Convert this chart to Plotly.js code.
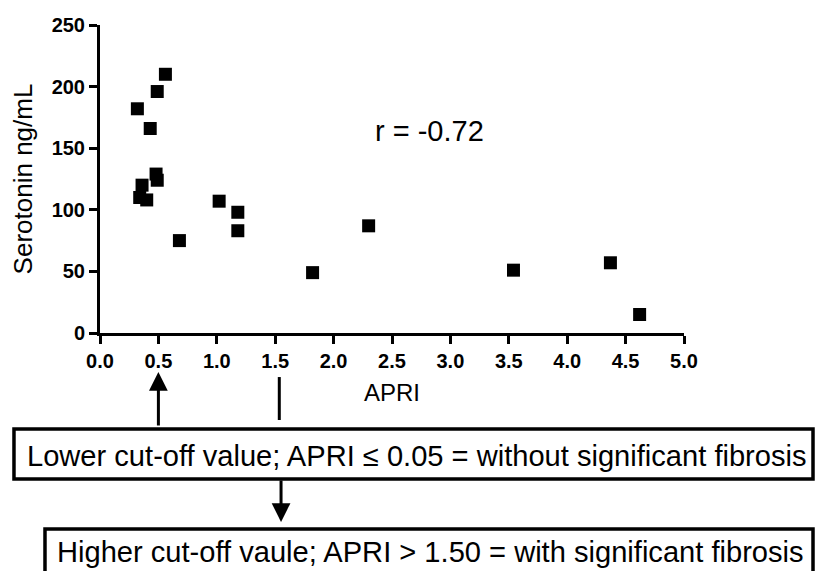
<!DOCTYPE html>
<html>
<head>
<meta charset="utf-8">
<script src="https://cdn.plot.ly/plotly-3.0.1.min.js"></script>
<style>html,body{margin:0;padding:0;background:#fff;}#chart{width:817px;height:571px;}</style>
</head>
<body>
<div id="chart"></div>
<script>
// APRI (x) vs serotonin (y)
const apri = [0.32, 0.56, 0.49, 0.43, 0.48, 0.49, 0.36, 0.34, 0.40, 1.02, 1.18, 1.18, 0.68, 1.82, 2.30, 3.54, 4.37, 4.62];
const serotonin = [182, 210, 196, 166, 129, 124, 120, 110, 108, 107, 98, 83, 75, 49, 87, 51, 57, 15];
const xTicks = [0, 0.5, 1, 1.5, 2, 2.5, 3, 3.5, 4, 4.5, 5];
const yTicks = [0, 50, 100, 150, 200, 250];
const xTitle = "APRI";
const yTitle = "Serotonin ng/mL";
const corrText = "r = -0.72";
const lowerCut = 0.5;
const higherCut = 1.55;
const lowerText = "Lower cut-off value; APRI \u2264 0.05 = without significant fibrosis";
const higherText = "Higher cut-off vaule; APRI > 1.50 = with significant fibrosis";

const FONT = '"Liberation Sans", Arial, sans-serif';

const trace = {
  x: apri, y: serotonin, type: 'scatter', mode: 'markers',
  marker: {symbol: 'square', size: 13, color: '#000'},
  cliponaxis: false, hoverinfo: 'x+y'
};

const layout = {
  width: 817, height: 571,
  margin: {l: 100, r: 133, t: 25, b: 238, pad: 0},
  paper_bgcolor: '#fff', plot_bgcolor: '#fff',
  showlegend: false,
  font: {family: FONT, color: '#000'},
  xaxis: {
    range: [0, 5], tickvals: xTicks, ticktext: xTicks.map(v => v.toFixed(1)),
    showgrid: false, zeroline: false, showline: true, linewidth: 3, linecolor: '#000',
    ticks: 'outside', ticklen: 8, tickwidth: 3, tickcolor: '#000',
    tickfont: {family: FONT, size: 20, color: '#000', weight: 'bold'},
    title: {text: xTitle, font: {family: FONT, size: 24, color: '#000'}, standoff: 14},
    fixedrange: true
  },
  yaxis: {
    range: [0, 250], tickvals: yTicks,
    showgrid: false, zeroline: false, showline: true, linewidth: 3, linecolor: '#000',
    ticks: 'outside', ticklen: 8, tickwidth: 3, tickcolor: '#000',
    tickfont: {family: FONT, size: 20, color: '#000', weight: 'bold'},
    title: {text: yTitle, font: {family: FONT, size: 26, color: '#000'}, standoff: 12},
    fixedrange: true
  },
  shapes: [
    // vertical marker line under the axis near 1.5
    {type: 'line', xref: 'x', yref: 'paper', x0: higherCut - 0.015, x1: higherCut - 0.015, y0: -0.143, y1: -0.2825,
     line: {color: '#000', width: 3}},
    // lower cut-off box
    {type: 'rect', xref: 'paper', yref: 'paper', x0: -0.1473, x1: 1.2209, y0: -0.474, y1: -0.3117,
     line: {color: '#000', width: 3.5}, fillcolor: 'rgba(0,0,0,0)'},
    // higher cut-off box
    {type: 'rect', xref: 'paper', yref: 'paper', x0: -0.0942, x1: 1.2209, y0: -0.84, y1: -0.6364,
     line: {color: '#000', width: 3.5}, fillcolor: 'rgba(0,0,0,0)'}
  ],
  annotations: [
    {xref: 'x', yref: 'y', x: 2.82, y: 164, text: corrText, showarrow: false,
     xanchor: 'center', yanchor: 'middle', font: {family: FONT, size: 29, color: '#000'}},
    // up arrow at 0.5
    {xref: 'x', yref: 'paper', x: lowerCut, y: -0.1266, text: '', showarrow: true,
     ax: 0, ay: 55, arrowhead: 2, arrowwidth: 3, arrowsize: 1.25, arrowcolor: '#000'},
    // down arrow towards second box
    {xref: 'x', yref: 'paper', x: higherCut, y: -0.6136, text: '', showarrow: true,
     ax: 0, ay: -43, arrowhead: 2, arrowwidth: 3, arrowsize: 1.25, arrowcolor: '#000'},
    {xref: 'paper', yref: 'paper', x: 0.542, y: -0.399, text: lowerText, showarrow: false,
     xanchor: 'center', yanchor: 'middle', font: {family: FONT, size: 29.1, color: '#000'}},
    {xref: 'paper', yref: 'paper', x: 0.566, y: -0.711, text: higherText, showarrow: false,
     xanchor: 'center', yanchor: 'middle', font: {family: FONT, size: 29.1, color: '#000'}}
  ]
};

Plotly.newPlot('chart', [trace], layout, {staticPlot: true, displayModeBar: false});
</script>
</body>
</html>
